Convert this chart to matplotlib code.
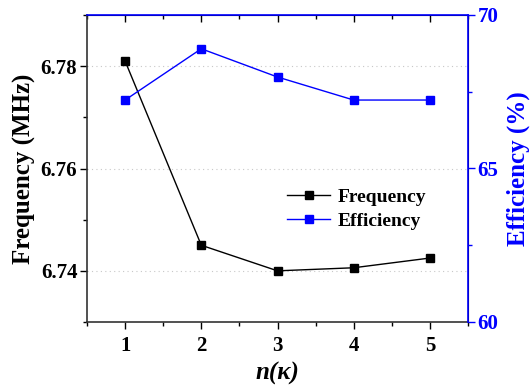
import matplotlib
matplotlib.use("Agg")
import matplotlib.pyplot as plt
from matplotlib.ticker import MultipleLocator

plt.rcParams['font.family'] = ['Liberation Serif', 'DejaVu Serif']
plt.rcParams['font.weight'] = 'bold'

n = [1, 2, 3, 4, 5]
frequency = [6.781, 6.745, 6.740, 6.7406, 6.7425]
efficiency = [67.23, 68.9, 67.98, 67.23, 67.23]

fig = plt.figure(figsize=(5.31, 3.88), dpi=100)
ax = fig.add_axes([87/531, 1-322/388, (468-87)/531, (322-15)/388])
ax2 = ax.twinx()

ax.plot(n, frequency, color='black', marker='s', markersize=5.5, lw=1, label='Frequency')
l2, = ax2.plot(n, efficiency, color='blue', marker='s', markersize=5.5, lw=1, label='Efficiency')

ax.set_xlim(0.5, 5.5)
ax.set_ylim(6.73, 6.79)
ax2.set_ylim(60, 70)
ax.set_xticks(n)
ax.xaxis.set_minor_locator(MultipleLocator(0.5))
ax.set_yticks([6.74, 6.76, 6.78])
ax.yaxis.set_minor_locator(MultipleLocator(0.01))
ax2.set_yticks([60, 65, 70])
ax2.yaxis.set_minor_locator(MultipleLocator(2.5))

ax.grid(axis='y', which='major', color='#c8c8c8', linestyle=(0, (1, 3)), lw=0.8)

ax.tick_params(axis='x', which='both', direction='out', top=True, labelsize=15, length=5, width=1, pad=5)
ax.tick_params(axis='x', which='minor', length=3)
ax.tick_params(axis='y', which='both', direction='out', labelsize=15, length=5, width=1, pad=2)
ax.tick_params(axis='y', which='minor', length=3)
ax2.tick_params(axis='y', which='both', direction='out', colors='blue', labelsize=15, length=5, width=1, pad=2)
ax2.tick_params(axis='y', which='minor', length=3)
for t in ax.xaxis.get_major_ticks() + ax.xaxis.get_minor_ticks():
    t.tick2line.set_color('blue')
    t.tick2line.set_marker(3)

for s in ['left', 'bottom']:
    ax.spines[s].set_color('#333333')
    ax.spines[s].set_linewidth(1.2)
ax2.spines['right'].set_color('blue')
ax2.spines['top'].set_color('blue')
ax2.spines['right'].set_linewidth(1.2)
ax2.spines['top'].set_linewidth(1.2)
ax2.spines['left'].set_visible(False)
ax2.spines['bottom'].set_visible(False)

ax.set_ylabel('Frequency (MHz)', fontsize=18, fontweight='bold', labelpad=3)
ax2.set_ylabel('Efficiency (%)', fontsize=18, fontweight='bold', color='blue', labelpad=6)
ax.set_xlabel('n(κ)', fontsize=18, fontweight='bold', style='italic', labelpad=4)

h1, lab1 = ax.get_legend_handles_labels()
ax.legend(h1 + [l2], lab1 + ['Efficiency'], loc='upper left', bbox_to_anchor=(0.505, 0.46),
          frameon=False, fontsize=14, handlelength=2.2, borderaxespad=0, labelspacing=0.3,
          handletextpad=0.4)

fig.savefig('out.png', dpi=100)
